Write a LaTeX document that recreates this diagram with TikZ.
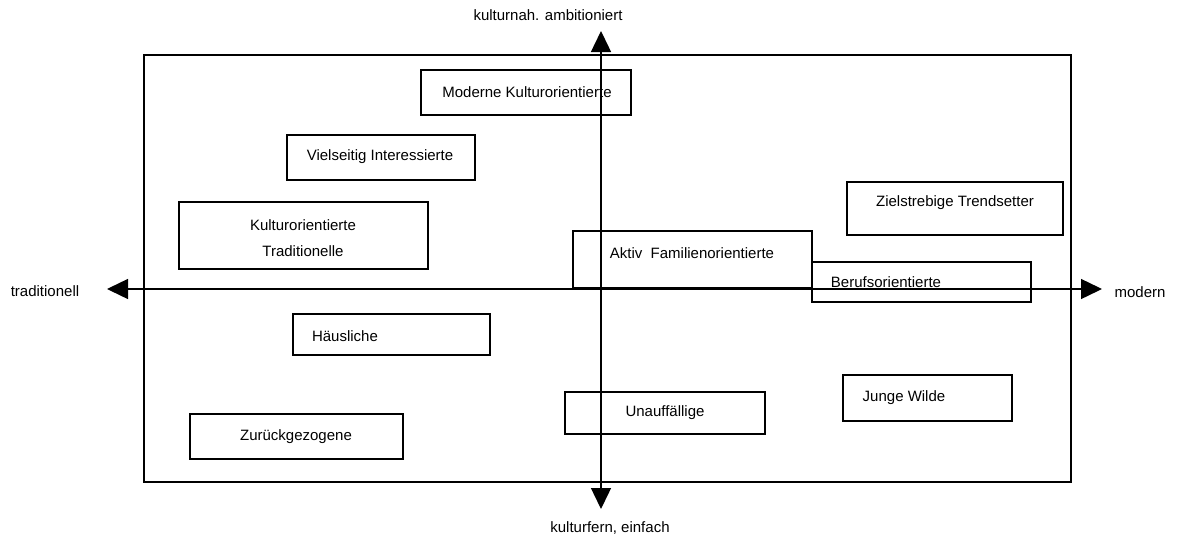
\documentclass[tikz,border=0pt]{standalone}
\usepackage{fontspec}
\setmainfont{Liberation Sans}
\usetikzlibrary{arrows.meta,positioning}

\tikzset{
  segbox/.style={draw,line width=1.3pt,inner sep=0pt,outer sep=0pt},
  seglabel/.style={inner sep=0pt,font=\fontsize{15}{26}\selectfont,align=center},
  axis/.style={line width=1.4pt,{Triangle[length=21pt,width=20pt]}-{Triangle[length=21pt,width=20pt]}}
}

\begin{document}
\begin{tikzpicture}[x=1pt,y=-1pt]
	\useasboundingbox (0,0) rectangle (1177,541);
	% frame
	\node[segbox,line width=1.7pt,minimum width=927pt,minimum height=427pt] (frame) at (607.5,268.5) {};

	% axes
	\coordinate (west) at (107,289);
	\coordinate (east) at (1102,289);
	\coordinate (north) at (601,31);
	\coordinate (south) at (601,509);
	\draw[axis] (west) -- (east);
	\draw[axis] (south) -- (north);
	\node[seglabel] (toplbl) at (548,15) {kulturnah. ambitioniert};
	\node[seglabel] (botlbl) at (610,528) {kulturfern, einfach};
	\node[seglabel] (leftlbl) at (45,291) {traditionell};
	\node[seglabel] (rightlbl) at (1140,292) {modern};

	% boxes
	\node[segbox,minimum width=210pt,minimum height=45pt] (moderne) at (526,92.5) {};
	\node[segbox,minimum width=188pt,minimum height=45pt] (vielseitig) at (381,157.5) {};
	\node[segbox,minimum width=249pt,minimum height=67pt] (kultrad) at (303.5,235.5) {};
	\node[segbox,minimum width=216pt,minimum height=53pt] (trend) at (955,208.5) {};
	\node[segbox,minimum width=239pt,minimum height=57pt] (aktiv) at (692.5,259.5) {};
	\node[segbox,minimum width=219pt,minimum height=40pt] (beruf) at (921.5,282) {};
	\node[segbox,minimum width=197pt,minimum height=41pt] (haus) at (391.5,334.5) {};
	\node[segbox,minimum width=200pt,minimum height=42pt] (unauf) at (665,413) {};
	\node[segbox,minimum width=169pt,minimum height=46pt] (wilde) at (927.5,398) {};
	\node[segbox,minimum width=213pt,minimum height=45pt] (zurueck) at (296.5,436.5) {};

	% texts
	\node[seglabel] (modernetxt) at (527,92) {Moderne Kulturorientierte};
	\node[seglabel] (vielseitigtxt) at (380,157) {Vielseitig Interessierte};
	\node[seglabel] (kultradtxt) at (303,238) {Kulturorientierte\\Traditionelle};
	\node[seglabel] (trendtxt) at (955,203) {Zielstrebige Trendsetter};
	\node[seglabel] (aktivtxt) at (692,253) {Aktiv\ \ Familienorientierte};
	\node[seglabel] (beruftxt) at (886,282) {Berufsorientierte};
	\node[seglabel] (haustxt) at (345,336) {Häusliche};
	\node[seglabel] (unauftxt) at (665,413) {Unauffällige};
	\node[seglabel] (wildetxt) at (904,398) {Junge Wilde};
	\node[seglabel] (zuruecktxt) at (296,437) {Zurückgezogene};
\end{tikzpicture}
\end{document}
